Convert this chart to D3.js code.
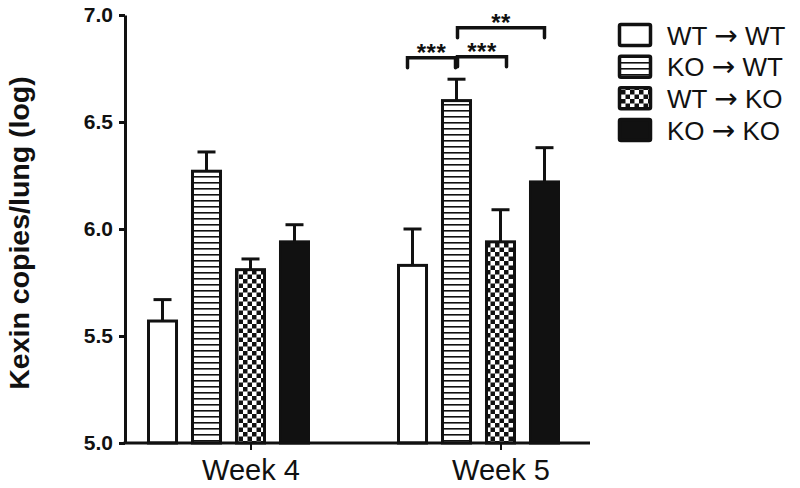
<!DOCTYPE html>
<html>
<head>
<meta charset="utf-8">
<script src="https://cdn.jsdelivr.net/npm/d3@7"></script>
<style>
  html, body { margin: 0; padding: 0; background: #fff; }
  svg { display: block; font-family: "Liberation Sans", Arial, Helvetica, sans-serif; }
</style>
</head>
<body>
<svg id="chart" width="800" height="488"></svg>
<script>
// ---- Data ----
const weeks = ["Week 4", "Week 5"];
const series = ["WT \u2192 WT", "KO \u2192 WT", "WT \u2192 KO", "KO \u2192 KO"];
const week4Means = [5.57, 6.27, 5.81, 5.94];
const week5Means = [5.83, 6.60, 5.94, 6.22];
const week4Errors = [0.10, 0.09, 0.05, 0.08];
const week5Errors = [0.17, 0.10, 0.15, 0.16];
const yTicks = [5.0, 5.5, 6.0, 6.5, 7.0];
const yLabel = "Kexin copies/lung (log)";
// significance comparisons (Week 5): from series index, to series index, label, bracket level (y value)
const sigFrom = [0, 1, 1];
const sigTo = [1, 2, 3];
const sigLabels = ["***", "***", "**"];
const sigLevels = [6.80, 6.805, 6.94];

const means = [week4Means, week5Means];
const errors = [week4Errors, week5Errors];

const svg = d3.select("#chart");
const ink = "#111";

// ---- Scales ----
const y = d3.scaleLinear().domain([5, 7]).range([443, 15]);
const x0 = d3.scaleBand().domain(weeks).range([147, 560]).paddingInner(0.348).paddingOuter(0);
const x1 = d3.scaleBand().domain(series).range([0, x0.bandwidth()]).paddingInner(0.295).paddingOuter(0);

// ---- Patterns ----
const defs = svg.append("defs");
const stripes = defs.append("pattern").attr("id", "stripes")
  .attr("patternUnits", "userSpaceOnUse").attr("width", 8).attr("height", 6);
stripes.append("rect").attr("width", 8).attr("height", 6).attr("fill", "#fff");
stripes.append("rect").attr("y", 2).attr("width", 8).attr("height", 1.6).attr("fill", ink);

const checker = defs.append("pattern").attr("id", "checker")
  .attr("patternUnits", "userSpaceOnUse").attr("width", 9).attr("height", 9);
checker.append("rect").attr("width", 9).attr("height", 9).attr("fill", "#fff");
checker.append("rect").attr("width", 4.5).attr("height", 4.5).attr("fill", ink);
checker.append("rect").attr("x", 4.5).attr("y", 4.5).attr("width", 4.5).attr("height", 4.5).attr("fill", ink);

const fills = d3.scaleOrdinal().domain(series).range(["#fff", "url(#stripes)", "url(#checker)", ink]);

// ---- Bars ----
const data = [];
weeks.forEach((w, wi) => series.forEach((s, si) => data.push({ week: w, s, si, v: means[wi][si], e: errors[wi][si] })));

const bw = x1.bandwidth();
const barX = d => x0(d.week) + x1(d.s);

// error bars (drawn first so bar outline sits on top)
const eb = svg.append("g").attr("stroke", ink).attr("stroke-width", 3);
eb.selectAll("line.stem").data(data).join("line").attr("class", "stem")
  .attr("x1", d => barX(d) + bw / 2).attr("x2", d => barX(d) + bw / 2)
  .attr("y1", d => y(d.v)).attr("y2", d => y(d.v + d.e));
eb.selectAll("line.cap").data(data).join("line").attr("class", "cap")
  .attr("x1", d => barX(d) + bw / 2 - 9).attr("x2", d => barX(d) + bw / 2 + 9)
  .attr("y1", d => y(d.v + d.e)).attr("y2", d => y(d.v + d.e));

svg.append("g").selectAll("rect").data(data).join("rect")
  .attr("x", d => barX(d) + 1.5)
  .attr("y", d => y(d.v))
  .attr("width", bw - 3)
  .attr("height", d => y(5) - y(d.v))
  .attr("fill", d => fills(d.s))
  .attr("stroke", ink).attr("stroke-width", 3);

// ---- Axes ----
const yAxis = svg.append("g").attr("transform", "translate(125,0)")
  .call(d3.axisLeft(y).tickValues(yTicks).tickFormat(d3.format(".1f")).tickSize(6).tickSizeOuter(0).tickPadding(6));
yAxis.select(".domain").attr("stroke", ink).attr("stroke-width", 3);
yAxis.selectAll(".tick line").attr("stroke", ink).attr("stroke-width", 3);
yAxis.selectAll(".tick text").attr("font-size", 21).attr("font-weight", "bold").attr("fill", ink)
  .attr("font-family", "'Liberation Sans', Arial, sans-serif");

// x axis: ticks at position of third bar center within each group (as in reference)
const tickPos = d3.scaleOrdinal().domain(weeks).range(weeks.map(w => x0(w) + x1(series[2]) + bw / 2));
svg.append("line").attr("x1", 123.5).attr("x2", 590).attr("y1", y(5)).attr("y2", y(5))
  .attr("stroke", ink).attr("stroke-width", 3);
const xAxis = svg.append("g").attr("transform", `translate(0,${y(5)})`)
  .call(d3.axisBottom(tickPos).tickSize(7).tickSizeOuter(0).tickPadding(6));
xAxis.select(".domain").remove();
xAxis.selectAll(".tick line").attr("stroke", ink).attr("stroke-width", 2);
xAxis.selectAll(".tick text").attr("font-size", 29).attr("fill", ink).attr("dy", null)
  .attr("y", 37).attr("font-family", "'Liberation Sans', Arial, sans-serif");

// y label
svg.append("text").attr("transform", "translate(29,233) rotate(-90)")
  .attr("text-anchor", "middle").attr("font-size", 28.5).attr("font-weight", "bold").attr("fill", ink)
  .text(yLabel);

// ---- Significance brackets (Week 5) ----
const cx = si => x0("Week 5") + x1(series[si]) + bw / 2;
const sg = svg.append("g");
sigLabels.forEach((lab, i) => {
  const a = cx(sigFrom[i]) - (sigFrom[i] === 0 ? 5 : -1);
  const b = cx(sigTo[i]) + (i === 1 ? 6 : 0) - (i === 0 ? 1 : 0);
  const yy = y(sigLevels[i]);
  sg.append("path")
    .attr("d", `M${a},${yy + 10}V${yy}H${b}V${yy + 10}`)
    .attr("fill", "none").attr("stroke", ink).attr("stroke-width", 3.5).attr("stroke-linecap", "round");
  sg.append("text").attr("x", (a + b) / 2).attr("y", yy + 3)
    .attr("text-anchor", "middle").attr("font-size", 24).attr("font-weight", "bold")
    .attr("letter-spacing", 0.5).attr("fill", ink).text(lab);
});

// ---- Legend ----
const ly = d3.scalePoint().domain(series).range([35, 130]);
const lg = svg.append("g");
lg.selectAll("rect").data(series).join("rect")
  .attr("x", 619.5).attr("y", d => ly(d) - 10.5).attr("width", 31).attr("height", 21)
  .attr("rx", 1.5)
  .attr("fill", d => fills(d)).attr("stroke", ink).attr("stroke-width", 3.5);
lg.selectAll("text").data(series).join("text")
  .attr("x", 667).attr("y", d => ly(d) + 9.5)
  .attr("font-size", 26).attr("fill", ink)
  .each(function (d) {
    const parts = d.split("\u2192");
    const t = d3.select(this);
    t.append("tspan").text(parts[0]);
    t.append("tspan").attr("font-family", "'DejaVu Sans', sans-serif").attr("font-size", 28).text("\u2192");
    t.append("tspan").text(parts[1]);
  });
</script>
</body>
</html>
